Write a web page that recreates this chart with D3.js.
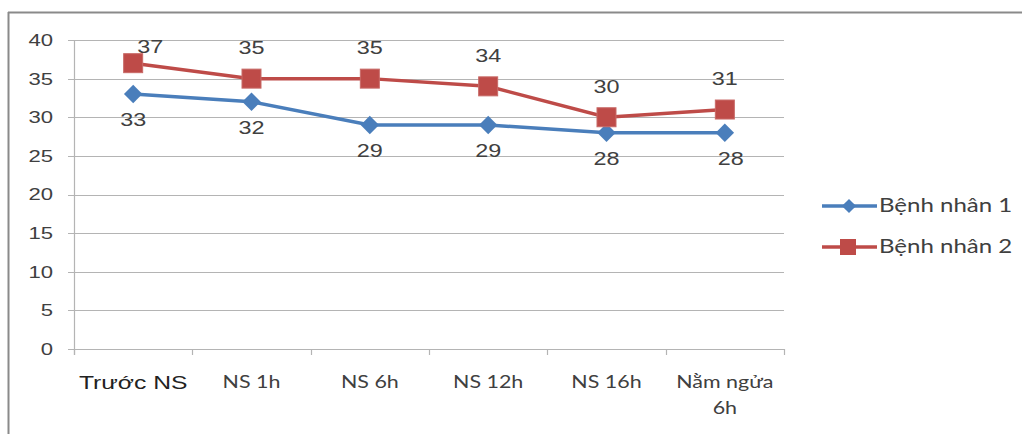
<!DOCTYPE html>
<html>
<head>
<meta charset="utf-8">
<script src="https://cdn.jsdelivr.net/npm/d3@7"></script>
<style>
  html, body { margin: 0; padding: 0; background: #fff; }
  svg { display: block; }
</style>
</head>
<body>
<svg id="chart" width="1022" height="434"></svg>
<script>
// Time points and measured values for the two patients
const categories = ["Trước NS", "NS 1h", "NS 6h", "NS 12h", "NS 16h", "Nằm ngửa 6h"];
const patient1 = [33, 32, 29, 29, 28, 28];
const patient2 = [37, 35, 35, 34, 30, 31];
const seriesNames = ["Bệnh nhân 1", "Bệnh nhân 2"];
const yTicks = [0, 5, 10, 15, 20, 25, 30, 35, 40];

const svg = d3.select("#chart");
const W = 1022, H = 434;

const blue = "#4A7EBB", red = "#BE4B48";
const grid = "#b4b4b4";
const textCol = "#404040";
const arial = "Liberation Sans, Arial, sans-serif";
const calib = "Lato, 'Open Sans', sans-serif";
const SX = 1.3; // text is drawn horizontally widened

// place a text label widened horizontally around its anchor point
function label(parent, px, py, str, opts) {
  const g = parent.append("g").attr("transform", `translate(${px},${py}) scale(${SX},1)`);
  const t = g.append("text")
    .attr("x", 0).attr("y", 0).attr("dy", opts.dy || "0.35em")
    .attr("text-anchor", opts.anchor || "middle")
    .attr("font-family", opts.family).attr("font-size", opts.size)
    .attr("fill", opts.fill || textCol);
  if (str !== null) t.text(str);
  return t;
}

// outer frame (top and left edges visible)
svg.append("line").attr("x1", 8).attr("x2", W).attr("y1", 12.5).attr("y2", 12.5)
  .attr("stroke", "#8a8a8a").attr("stroke-width", 2);
svg.append("line").attr("x1", 8.5).attr("x2", 8.5).attr("y1", 12).attr("y2", H)
  .attr("stroke", "#8a8a8a").attr("stroke-width", 2);

const plot = { left: 74, right: 784, top: 40, bottom: 349 };

const x = d3.scaleBand().domain(categories).range([plot.left, plot.right]).padding(0);
const y = d3.scaleLinear().domain([0, 40]).range([plot.bottom, plot.top]);
const cx = c => x(c) + x.bandwidth() / 2;

// horizontal gridlines
svg.append("g").selectAll("line").data(yTicks).join("line")
  .attr("x1", plot.left - 6).attr("x2", plot.right)
  .attr("y1", d => Math.round(y(d)) + 0.5).attr("y2", d => Math.round(y(d)) + 0.5)
  .attr("stroke", grid).attr("stroke-width", 1.2);

// y axis line
svg.append("line").attr("x1", plot.left + 0.5).attr("x2", plot.left + 0.5)
  .attr("y1", plot.top).attr("y2", plot.bottom + 6)
  .attr("stroke", grid).attr("stroke-width", 1.2);

// x category ticks
const xTickPos = categories.map(c => x(c)).concat([plot.right]);
svg.append("g").selectAll("line").data(xTickPos).join("line")
  .attr("x1", d => Math.round(d) + 0.5).attr("x2", d => Math.round(d) + 0.5)
  .attr("y1", plot.bottom).attr("y2", plot.bottom + 6)
  .attr("stroke", grid).attr("stroke-width", 1.2);

// y tick labels
const yl = svg.append("g");
yTicks.forEach(d => label(yl, 53, y(d), d, { anchor: "end", family: arial, size: 17 }));

// x tick labels (long label wraps onto two lines)
const xl = svg.append("g");
categories.forEach((c, i) => {
  const first = i === 0;
  const t = label(xl, cx(c), 382, null, {
    family: first ? arial : calib, size: first ? 19 : 16.5, fill: first ? "#222" : textCol
  });
  if (c === "Nằm ngửa 6h") {
    t.append("tspan").attr("x", 0).text("Nằm ngửa");
    t.append("tspan").attr("x", 0).attr("dy", 26).text("6h");
  } else {
    t.text(c);
  }
});

const line = d3.line().x((d, i) => cx(categories[i])).y(d => y(d));

// series lines
svg.append("path").datum(patient1).attr("d", line)
  .attr("fill", "none").attr("stroke", blue).attr("stroke-width", 3.5);
svg.append("path").datum(patient2).attr("d", line)
  .attr("fill", "none").attr("stroke", red).attr("stroke-width", 3.5);

const square = 19;

// markers
svg.append("g").selectAll("path").data(patient1).join("path")
  .attr("d", d3.symbol().type(d3.symbolSquare).size(170))
  .attr("transform", (d, i) => `translate(${cx(categories[i])},${y(d)}) rotate(45)`)
  .attr("fill", blue);

svg.append("g").selectAll("rect").data(patient2).join("rect")
  .attr("x", (d, i) => cx(categories[i]) - square / 2)
  .attr("y", d => y(d) - square / 2)
  .attr("width", square).attr("height", square)
  .attr("fill", red).attr("stroke", "#c86a67").attr("stroke-width", 1);

// data labels
const dl1 = svg.append("g");
patient1.forEach((d, i) => {
  label(dl1, cx(categories[i]) + (i === categories.length - 1 ? 6 : 0), y(d) + 26, d,
    { family: arial, size: 18 });
});
const dl2 = svg.append("g");
patient2.forEach((d, i) => {
  label(dl2, cx(categories[i]) + (i === 0 ? 17 : 0), Math.max(y(d) - 31, 47), d,
    { family: arial, size: 18 });
});

// legend
const legend = svg.append("g");
const legendRows = [
  { name: seriesNames[0], color: blue, kind: "diamond", y: 206 },
  { name: seriesNames[1], color: red, kind: "square", y: 247 }
];
legendRows.forEach(r => {
  legend.append("line").attr("x1", 822).attr("x2", 877).attr("y1", r.y).attr("y2", r.y)
    .attr("stroke", r.color).attr("stroke-width", 3.5);
  if (r.kind === "diamond") {
    legend.append("path").attr("d", d3.symbol().type(d3.symbolSquare).size(100))
      .attr("transform", `translate(849,${r.y}) rotate(45)`).attr("fill", r.color);
  } else {
    legend.append("rect").attr("x", 840).attr("y", r.y - 8).attr("width", 16).attr("height", 16)
      .attr("fill", r.color);
  }
  label(legend, 879, r.y, r.name, { anchor: "start", family: calib, size: 18.5 });
});
</script>
</body>
</html>
